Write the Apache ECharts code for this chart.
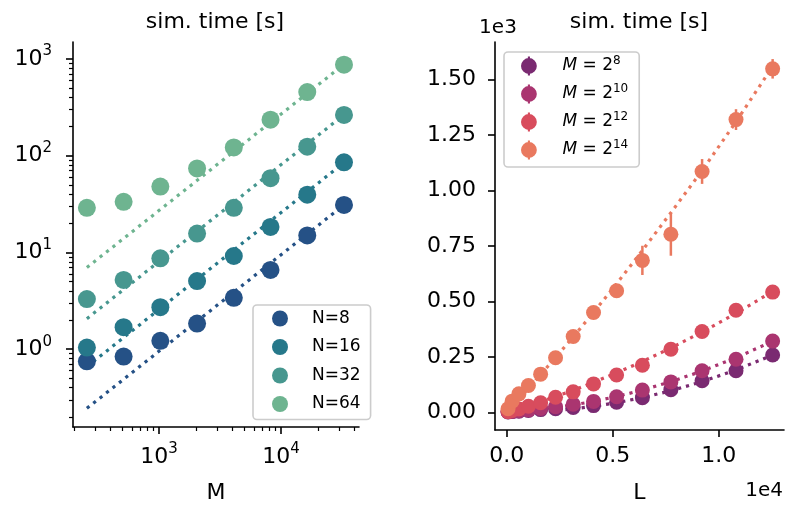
<!DOCTYPE html>
<html><head><meta charset="utf-8">
<script src="https://cdn.jsdelivr.net/npm/echarts@6/dist/echarts.min.js"></script>
<style>html,body{margin:0;padding:0;background:#fff}#c{width:795px;height:509px}</style>
</head><body><div id="c"></div>
<script>
// ---------- Left panel data (log-log) ----------
const Mvals = [256, 512, 1024, 2048, 4096, 8192, 16384, 32768];
const leftNames = ['N=8', 'N=16', 'N=32', 'N=64'];
const timeN8  = [0.75, 0.84, 1.22, 1.84, 3.4, 6.6, 15, 31];
const timeN16 = [1.04, 1.69, 2.72, 5.06, 9.2, 18.4, 39.6, 85.5];
const timeN32 = [3.3, 5.2, 8.7, 15.7, 29, 58.7, 124, 264];
const timeN64 = [29, 33.4, 48, 74, 122, 236, 456, 875];
const fitM    = [256, 32768];
const fitN8   = [0.245, 31];
const fitN16  = [0.66, 85];
const fitN32  = [2.07, 265];
const fitN64  = [7.0, 880];
const leftMajorX = [1000, 10000];
const leftMinorX = [200, 300, 400, 500, 600, 700, 800, 900, 2000, 3000, 4000, 5000, 6000, 7000, 8000, 9000, 20000, 30000, 40000];
const leftMajorY = [1, 10, 100, 1000];
const leftMinorY = [0.2, 0.3, 0.4, 0.5, 0.6, 0.7, 0.8, 0.9, 2, 3, 4, 5, 6, 7, 8, 9, 20, 30, 40, 50, 60, 70, 80, 90, 200, 300, 400, 500, 600, 700, 800, 900];

// ---------- Right panel data (linear) ----------
const Lvals = [64, 256, 576, 1024, 1600, 2304, 3136, 4096, 5184, 6400, 7744, 9216, 10816, 12544];
const rightExps = [8, 10, 12, 14];
const timeM8  = [1, 3, 5, 8, 12, 16, 22, 30, 45, 66, 102, 142, 187, 258];
const timeM10 = [2, 4, 7, 11, 17, 25, 36, 49, 70, 100, 137, 187, 239, 321];
const timeM12 = [3, 8, 15, 27, 43, 68, 92, 128, 168, 212, 284, 364, 460, 542];
const timeM14 = [16, 50, 83, 121, 172, 246, 342, 450, 548, 685, 803, 1086, 1320, 1549];
const errM8   = [1, 1, 1, 1, 1, 2, 2, 2, 3, 3, 4, 5, 6, 7];
const errM10  = [1, 1, 1, 1, 2, 2, 3, 3, 4, 5, 6, 7, 8, 9];
const errM12  = [1, 1, 2, 2, 3, 4, 5, 6, 8, 9, 11, 13, 15, 17];
const errM14  = [2, 3, 4, 5, 7, 9, 12, 16, 22, 66, 97, 56, 47, 44];
const fitM8   = [0, 0, 0.3, 1.4, 3.7, 8, 15, 27, 43, 66, 97, 138, 191, 258];
const fitM10  = [0.4, 1.5, 3.6, 7, 13, 21, 33, 49, 71, 100, 138, 186, 246, 320];
const fitM12  = [2, 7, 16, 30, 48, 71, 99, 135, 178, 229, 290, 362, 446, 545];
const fitM14  = [7, 27, 60, 108, 170, 247, 340, 450, 580, 730, 900, 1090, 1310, 1560];
const rightXTicks = [0, 5000, 10000];
const rightYTicks = [0, 250, 500, 750, 1000, 1250, 1500];

// ---------- styling ----------
const FONT = 'DejaVu Sans';
const leftColors  = ['#255186', '#26788a', '#47978f', '#6eb490'];
const rightColors = ['#7a2a71', '#aa3570', '#d84c5d', '#e9795f'];
const leftTimes = [timeN8, timeN16, timeN32, timeN64];
const leftFits  = [fitN8, fitN16, fitN32, fitN64];
const rightTimes = [timeM8, timeM10, timeM12, timeM14];
const rightErrs  = [errM8, errM10, errM12, errM14];
const rightFits  = [fitM8, fitM10, fitM12, fitM14];
const rightNames = rightExps.map(e => 'M=2^' + e);

const axisLineStyle = {color: '#000', width: 1.6};
const supRich = {s: {fontSize: 15, fontFamily: FONT, color: '#000', padding: [0, 0, 15, 0]}};
const pow10 = v => '10{s|' + Math.round(Math.log10(v)) + '}';

function logAxis(gridIndex, isX, min, max, majors, minors, extra) {
  const major = Object.assign({
    type: 'log', logBase: 10, gridIndex, min, max,
    position: isX ? 'bottom' : 'left',
    axisLine: {show: true, lineStyle: axisLineStyle},
    axisTick: {show: true, length: 7, lineStyle: axisLineStyle, customValues: majors},
    axisLabel: {customValues: majors, formatter: pow10, color: '#000', fontFamily: FONT, fontSize: 22,
                margin: isX ? 15 : 21, rich: supRich},
    splitLine: {show: false}, minorTick: {show: false}
  }, extra || {});
  const minor = {
    type: 'log', logBase: 10, gridIndex, min, max,
    position: isX ? 'bottom' : 'left',
    axisLine: {show: false},
    axisTick: {show: true, length: 4, lineStyle: {color: '#000', width: 1.2}, customValues: minors},
    axisLabel: {show: false}, splitLine: {show: false}
  };
  return [major, minor];
}

const xAxes = [].concat(
  logAxis(0, true, 197, 43500, leftMajorX, leftMinorX, {
    name: 'M', nameLocation: 'middle', nameGap: 66,
    nameTextStyle: {fontFamily: FONT, fontSize: 22, color: '#000', verticalAlign: 'middle'}
  }),
  [{
    type: 'value', gridIndex: 1, min: -552, max: 13080, position: 'bottom',
    axisLine: {show: true, onZero: false, lineStyle: axisLineStyle},
    axisTick: {show: true, length: 7, lineStyle: axisLineStyle, customValues: rightXTicks},
    axisLabel: {customValues: rightXTicks, formatter: v => (v / 1e4).toFixed(1), color: '#000',
                fontFamily: FONT, fontSize: 22, margin: 15},
    splitLine: {show: false},
    name: 'L', nameLocation: 'middle', nameGap: 63,
    nameTextStyle: {fontFamily: FONT, fontSize: 22, color: '#000', verticalAlign: 'middle'}
  }]
);
const yAxes = [].concat(
  logAxis(0, false, 0.157, 1500, leftMajorY, leftMinorY),
  [{
    type: 'value', gridIndex: 1, min: -80, max: 1670, position: 'left',
    axisLine: {show: true, onZero: false, lineStyle: axisLineStyle},
    axisTick: {show: true, length: 7, lineStyle: axisLineStyle, customValues: rightYTicks},
    axisLabel: {customValues: rightYTicks, formatter: v => (v / 1e3).toFixed(2), color: '#000',
                fontFamily: FONT, fontSize: 22, margin: 19},
    splitLine: {show: false}
  }]
);

const series = [];
leftNames.forEach((nm, k) => {
  series.push({
    type: 'line', xAxisIndex: 0, yAxisIndex: 0, silent: true, symbol: 'none',
    data: fitM.map((m, i) => [m, leftFits[k][i]]),
    lineStyle: {color: leftColors[k], width: 3.2, type: [3.2, 5], cap: 'butt'}, z: 2
  });
  series.push({
    type: 'scatter', name: nm, xAxisIndex: 0, yAxisIndex: 0, symbol: 'circle', symbolSize: 18,
    data: Mvals.map((m, i) => [m, leftTimes[k][i]]),
    itemStyle: {color: leftColors[k], opacity: 1}, z: 3
  });
});
rightNames.forEach((nm, k) => {
  const col = rightColors[k];
  series.push({
    type: 'line', xAxisIndex: 2, yAxisIndex: 2, silent: true, symbol: 'none',
    data: Lvals.map((l, i) => [l, rightFits[k][i]]),
    lineStyle: {color: col, width: 3.2, type: [3.2, 5], cap: 'butt'}, z: 2
  });
  series.push({
    type: 'custom', xAxisIndex: 2, yAxisIndex: 2, silent: true, coordinateSystem: 'cartesian2d',
    data: Lvals.map((l, i) => [l, rightTimes[k][i], rightErrs[k][i]]),
    encode: {x: 0, y: 1},
    renderItem: (params, api) => {
      const x = api.value(0), y = api.value(1), e = api.value(2);
      const p1 = api.coord([x, y - e]), p2 = api.coord([x, y + e]);
      return {type: 'line', shape: {x1: p1[0], y1: p1[1], x2: p2[0], y2: p2[1]},
              style: {stroke: col, lineWidth: 2.5}};
    }, z: 3
  });
  series.push({
    type: 'scatter', name: nm, xAxisIndex: 2, yAxisIndex: 2, symbol: 'circle', symbolSize: 15,
    data: Lvals.map((l, i) => [l, rightTimes[k][i]]),
    itemStyle: {color: col, opacity: 1}, z: 3
  });
});

const errIcon = 'path://M7.5,0A7.5,7.5,0,1,1,-7.5,0A7.5,7.5,0,1,1,7.5,0ZM-1,-9L1,-9L1,9L-1,9Z';

const option = {
  animation: false,
  backgroundColor: '#fff',
  grid: [
    {left: 73, top: 42, width: 286, height: 390},
    {left: 495, top: 42, width: 289, height: 393}
  ],
  xAxis: xAxes,
  yAxis: yAxes,
  legend: [
    {
      orient: 'vertical', left: 253, top: 305, padding: [5, 10, 7, 19],
      itemWidth: 16, itemHeight: 16, itemGap: 11.5, icon: 'circle', selectedMode: false,
      data: leftNames,
      backgroundColor: 'rgba(255,255,255,0.8)', borderColor: '#cccccc', borderWidth: 1.6, borderRadius: 4,
      textStyle: {fontFamily: FONT, fontSize: 17, color: '#000', padding: [0, 0, 0, 19]}
    },
    {
      orient: 'vertical', left: 504, top: 52, padding: [3, 11, 6, 17],
      itemWidth: 19, itemHeight: 19, itemGap: 6, selectedMode: false,
      data: rightNames.map(n => ({name: n, icon: errIcon})),
      backgroundColor: 'rgba(255,255,255,0.8)', borderColor: '#cccccc', borderWidth: 1.6, borderRadius: 4,
      formatter: n => '{i|M} = 2{s|' + n.split('^')[1] + '}',
      textStyle: {fontFamily: FONT, fontSize: 17, color: '#000', lineHeight: 22, padding: [0, 0, 0, 19],
        rich: {
          i: {fontFamily: FONT, fontSize: 17, fontStyle: 'italic', color: '#000'},
          s: {fontFamily: FONT, fontSize: 12, color: '#000', padding: [0, 0, 10, 0]}
        }}
    }
  ],
  graphic: [
    {type: 'text', x: 215, y: 22, style: {text: 'sim. time [s]', fontFamily: FONT, fontSize: 22, fill: '#000', align: 'center', verticalAlign: 'middle'}},
    {type: 'text', x: 639, y: 22, style: {text: 'sim. time [s]', fontFamily: FONT, fontSize: 22, fill: '#000', align: 'center', verticalAlign: 'middle'}},
    {type: 'text', x: 498, y: 28, style: {text: '1e3', fontFamily: FONT, fontSize: 20, fill: '#000', align: 'center', verticalAlign: 'middle'}},
    {type: 'text', x: 783, y: 491, style: {text: '1e4', fontFamily: FONT, fontSize: 20, fill: '#000', align: 'right', verticalAlign: 'middle'}}
  ],
  series
};
const chart = echarts.init(document.getElementById('c'), null, {renderer: 'canvas'});
chart.setOption(option);
</script></body></html>
